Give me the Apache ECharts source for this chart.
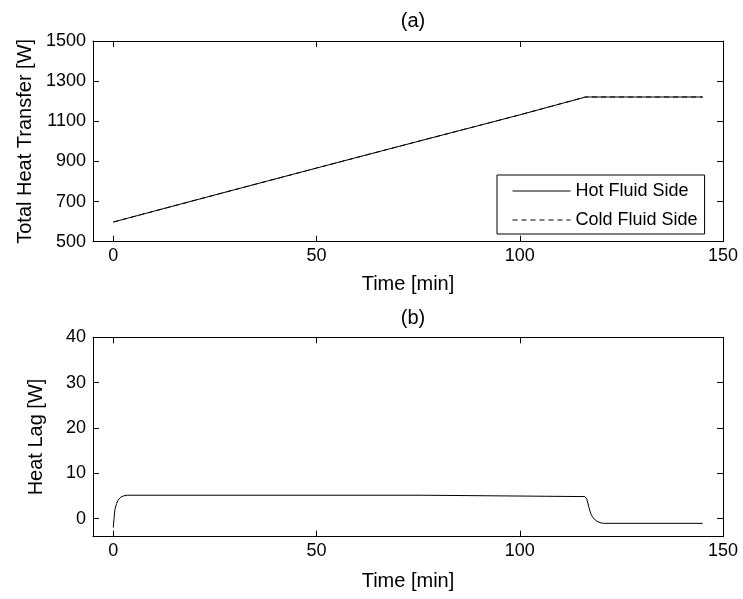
<!DOCTYPE html>
<html>
<head>
<meta charset="utf-8">
<script src="https://cdn.jsdelivr.net/npm/echarts@6/dist/echarts.min.js"></script>
<style>
html,body{margin:0;padding:0;background:#fff;}
#chart{width:743px;height:599px;}
</style>
</head>
<body>
<div id="chart"></div>
<script>
// ---- data ----
var titles = ['(a)', '(b)'];
var xTicks = [0, 50, 100, 150];
var yTicksTop = [500, 700, 900, 1100, 1300, 1500];
var yTicksBottom = [0, 10, 20, 30, 40];
var seriesNames = ['Hot Fluid Side', 'Cold Fluid Side'];

var timeTop = [0, 25, 50, 75, 100, 116.2, 145];
var hotFluid = [598, 733, 867, 1000, 1132, 1221, 1221];
var coldFluid = [598, 733, 867, 1000, 1132, 1221, 1221];

var timeLag = [0, 0.15, 0.4, 0.8, 1.2, 1.8, 2.5, 3.5, 76, 76.3, 116, 116.5, 117, 117.5, 118, 118.7, 119.3, 120, 120.6, 145];
var heatLag = [-2.0, -0.2, 2.0, 3.3, 4.1, 4.7, 5.0, 5.15, 5.15, 4.85, 4.85, 4.3, 2.5, 1.0, 0.2, -0.4, -0.75, -0.95, -1.05, -1.05];

function pairs(xs, ys) { return xs.map(function (x, i) { return [x, ys[i]]; }); }

var FONT = 'Liberation Sans, Arial, sans-serif';
var black = '#000';

function xAxisDef(gridIndex, pos, showLabel, name, nameGap) {
  return {
    type: 'value', gridIndex: gridIndex, position: pos, min: -5, max: 150,
    name: name || '', nameLocation: 'middle', nameGap: nameGap || 0,
    nameTextStyle: { color: black, fontFamily: FONT, fontSize: 20 },
    axisLine: { show: true, onZero: false, lineStyle: { color: black, width: 1 } },
    axisTick: { show: true, inside: true, length: 6, customValues: xTicks, lineStyle: { color: black } },
    axisLabel: { show: showLabel, customValues: xTicks, margin: 5, color: black, fontFamily: FONT, fontSize: 18,
      formatter: function (v) { return String(v); } },
    splitLine: { show: false }
  };
}
function yAxisDef(gridIndex, pos, showLabel, min, max, ticks, name, nameGap) {
  return {
    type: 'value', gridIndex: gridIndex, position: pos, min: min, max: max,
    name: name || '', nameLocation: 'middle', nameGap: nameGap || 0,
    nameTextStyle: { color: black, fontFamily: FONT, fontSize: 20 },
    axisLine: { show: true, onZero: false, lineStyle: { color: black, width: 1 } },
    axisTick: { show: true, inside: true, length: 6, customValues: ticks, lineStyle: { color: black } },
    axisLabel: { show: showLabel, customValues: ticks, margin: 7, color: black, fontFamily: FONT, fontSize: 18,
      formatter: function (v) { return String(v); } },
    splitLine: { show: false }
  };
}

var chart = echarts.init(document.getElementById('chart'), null, { renderer: 'canvas' });
chart.setOption({
  animation: false,
  backgroundColor: '#fff',
  title: [
    { text: titles[0], left: 408, top: 6, textAlign: 'center', textStyle: { color: black, fontFamily: FONT, fontSize: 20, fontWeight: 'normal' } },
    { text: titles[1], left: 408, top: 303, textAlign: 'center', textStyle: { color: black, fontFamily: FONT, fontSize: 20, fontWeight: 'normal' } }
  ],
  grid: [
    { left: 93, right: 20, top: 41, height: 200.7 },
    { left: 93, right: 20, top: 337.3, height: 199.4 }
  ],
  xAxis: [
    xAxisDef(0, 'bottom', true, 'Time [min]', 33),
    xAxisDef(0, 'top', false),
    xAxisDef(1, 'bottom', true, 'Time [min]', 35),
    xAxisDef(1, 'top', false)
  ],
  yAxis: [
    yAxisDef(0, 'left', true, 500, 1500, yTicksTop, 'Total Heat Transfer [W]', 56),
    yAxisDef(0, 'right', false, 500, 1500, yTicksTop),
    yAxisDef(1, 'left', true, -4, 40, yTicksBottom, 'Heat Lag [W]', 47),
    yAxisDef(1, 'right', false, -4, 40, yTicksBottom)
  ],
  legend: {
    data: seriesNames,
    orient: 'vertical',
    left: 497, top: 175,
    padding: [7, 7, 5, 15],
    itemWidth: 58, itemHeight: 14, itemGap: 11,
    borderColor: black, borderWidth: 1, backgroundColor: '#fff',
    itemStyle: { opacity: 0, color: 'transparent', borderWidth: 0 },
    lineStyle: { width: 1 },
    textStyle: { color: black, fontFamily: FONT, fontSize: 18 }
  },
  series: [
    { name: seriesNames[0], type: 'line', xAxisIndex: 0, yAxisIndex: 0, data: pairs(timeTop, hotFluid),
      symbol: 'none', lineStyle: { color: black, width: 1, type: 'solid' }, itemStyle: { color: black } },
    { name: seriesNames[1], type: 'line', xAxisIndex: 0, yAxisIndex: 0, data: pairs(timeTop, coldFluid),
      symbol: 'none', lineStyle: { color: black, width: 1, type: [5, 4] }, itemStyle: { color: black } },
    { name: 'Heat Lag', type: 'line', xAxisIndex: 2, yAxisIndex: 2, data: pairs(timeLag, heatLag),
      symbol: 'none', smooth: false, lineStyle: { color: black, width: 1 }, itemStyle: { color: black } }
  ]
});
</script>
</body>
</html>
